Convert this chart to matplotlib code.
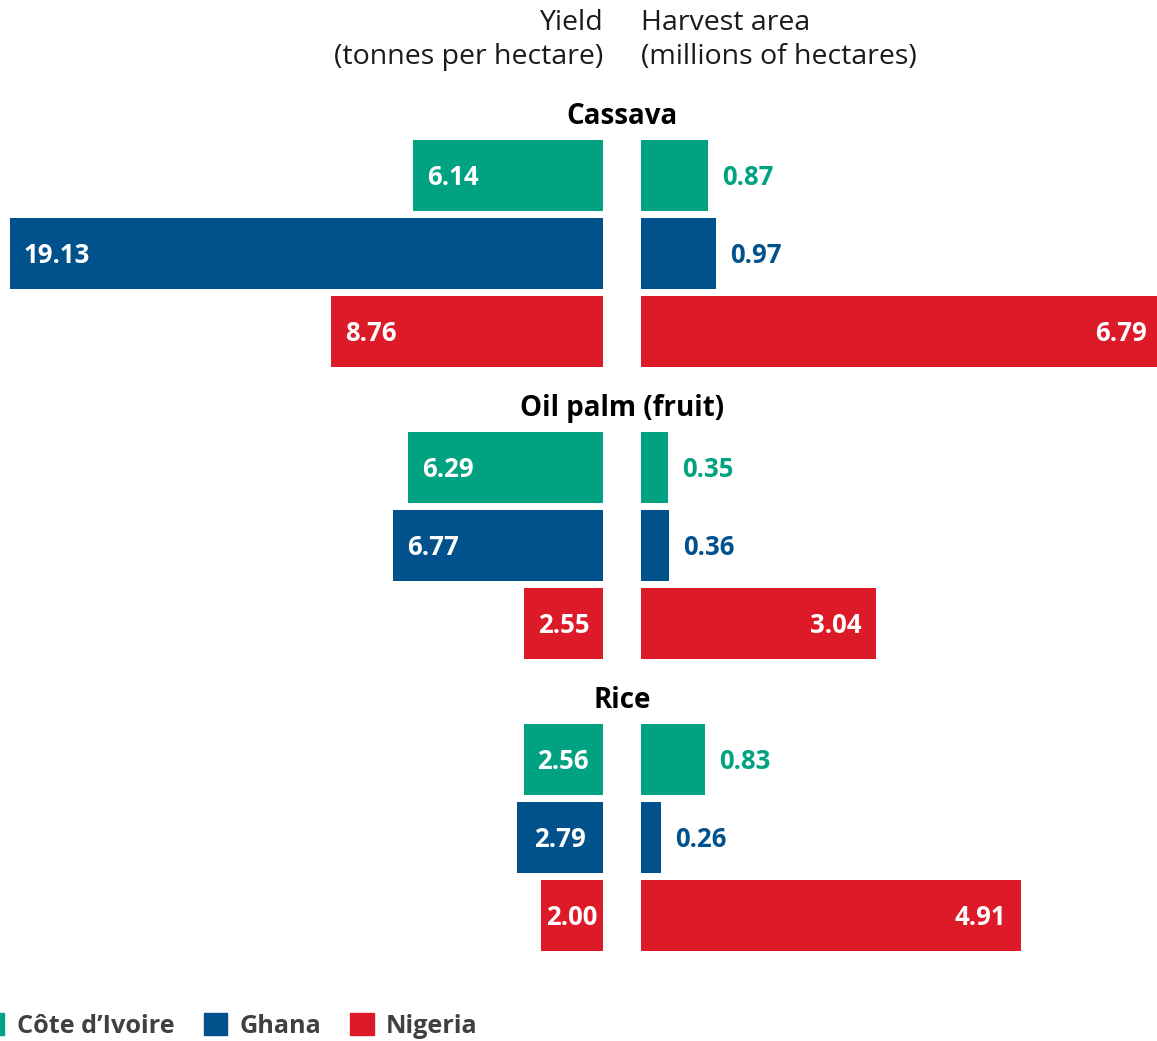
import matplotlib
matplotlib.use("Agg")
import matplotlib.pyplot as plt
import matplotlib.patches as mpatches

plt.rcParams['font.family'] = ['Open Sans', 'DejaVu Sans']

crops = ["Cassava", "Oil palm (fruit)", "Rice"]
countries = ["Côte d’Ivoire", "Ghana", "Nigeria"]
colors = ["#00A282", "#00518C", "#DC1A28"]
yield_vals = [[6.14, 19.13, 8.76], [6.29, 6.77, 2.55], [2.56, 2.79, 2.00]]
area_vals = [[0.87, 0.97, 6.79], [0.35, 0.36, 3.04], [0.83, 0.26, 4.91]]
yield_title = "Yield\n(tonnes per hectare)"
area_title = "Harvest area\n(millions of hectares)"

W, H = 1157, 1041
fig = plt.figure(figsize=(W / 100, H / 100), dpi=100)

# layout in pixels
left_edge, right_start = 603, 641
yscale_px = 31.0
ascale_px = 77.4
first_top = 140
bar_h = 71
pitch = 78
group_pitch = 292

axL = fig.add_axes([0, 0, left_edge / W, 1])
axR = fig.add_axes([right_start / W, 0, (W - right_start) / W, 1])
axL.set_xlim(left_edge / yscale_px, 0)
axR.set_xlim(0, (W - right_start) / ascale_px)
rmax = (W - right_start) / ascale_px
for ax in (axL, axR):
    ax.set_ylim(H, 0)
    ax.axis("off")

fs = 18.5
for g, crop in enumerate(crops):
    for j, c in enumerate(countries):
        yc = first_top + g * group_pitch + j * pitch + bar_h / 2
        yv = yield_vals[g][j]
        av = area_vals[g][j]
        axL.barh(yc, yv, height=bar_h, color=colors[j], left=0)
        axR.barh(yc, av, height=bar_h, color=colors[j], left=0)
        if yv >= 3:
            axL.annotate(f"{yv:.2f}", xy=(yv, yc), xytext=(14, -2), textcoords="offset pixels",
                         ha="left", va="center", color="white", fontsize=fs, fontweight="bold")
        else:
            axL.annotate(f"{yv:.2f}", xy=(yv / 2, yc), xytext=(0, -2), textcoords="offset pixels",
                         ha="center", va="center", color="white", fontsize=fs, fontweight="bold")
        if av > 2:
            pad = -10 if av > rmax else -15
            axR.annotate(f"{av:.2f}", xy=(min(av, rmax), yc),
                         xytext=(pad, -2), textcoords="offset pixels",
                         ha="right", va="center", color="white", fontsize=fs, fontweight="bold")
        else:
            axR.annotate(f"{av:.2f}", xy=(av, yc), xytext=(14, -2), textcoords="offset pixels",
                         ha="left", va="center", color=colors[j], fontsize=fs, fontweight="bold")
    fig.text((left_edge + right_start) / 2 / W, 1 - (first_top - 23 + g * group_pitch) / H, crop,
             ha="center", va="center", fontsize=20, fontweight="bold", color="black")

fig.text(left_edge / W, 1 - 40 / H, yield_title, ha="right", va="center", fontsize=20.5,
         color="#1a1a1a", linespacing=1.3, multialignment="right")
fig.text(right_start / W, 1 - 40 / H, area_title, ha="left", va="center", fontsize=20.5,
         color="#1a1a1a", linespacing=1.3)

handles = [mpatches.Patch(color=col, label=c) for c, col in zip(countries, colors)]
leg = fig.legend(handles=handles, loc="center left", bbox_to_anchor=(-19 / W, 1 - 1026 / H),
                 ncol=3, frameon=False, handlelength=0.92, handleheight=0.92,
                 handletextpad=0.5, columnspacing=1.15, borderpad=0, borderaxespad=0,
                 prop={"size": 18.2, "weight": "bold"})
for t in leg.get_texts():
    t.set_color("#404040")

fig.savefig("out.png", dpi=100)
